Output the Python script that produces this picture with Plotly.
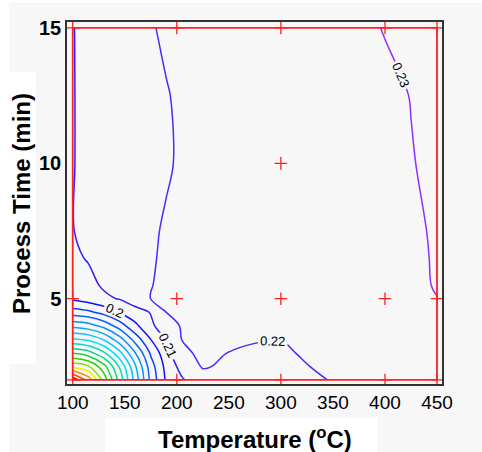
import plotly.graph_objects as go

# Temperature grid (°C) and process time grid (min)
temps = [100, 115, 130, 145, 160, 175, 190, 205, 225, 250, 300, 350, 400, 425, 450]
times = [2, 2.5, 3, 3.5, 4, 4.5, 5, 5.5, 6.5, 7.5, 10, 12.5, 15]

# response values (rows = times, cols = temps)
z_t2 = [0.042, 0.064, 0.094, 0.124, 0.154, 0.183, 0.2018, 0.209, 0.216, 0.2165, 0.2175, 0.2203, 0.2235, 0.2250, 0.2265]
z_t2_5 = [0.083, 0.089, 0.1065, 0.131, 0.1585, 0.1855, 0.2034, 0.2135, 0.2208, 0.2185, 0.2185, 0.2212, 0.2240, 0.2254, 0.2268]
z_t3 = [0.111, 0.1162, 0.1287, 0.1471, 0.1697, 0.1915, 0.2069, 0.2185, 0.2215, 0.2199, 0.2193, 0.2218, 0.2245, 0.2259, 0.2273]
z_t3_5 = [0.139, 0.1423, 0.151, 0.1659, 0.1841, 0.2001, 0.2105, 0.2202, 0.2218, 0.2212, 0.2201, 0.2222, 0.2250, 0.2263, 0.2277]
z_t4 = [0.1628, 0.1658, 0.1732, 0.1848, 0.1978, 0.208, 0.216, 0.2208, 0.2218, 0.2222, 0.2222, 0.2232, 0.2256, 0.2270, 0.2284]
z_t4_5 = [0.1855, 0.1878, 0.1936, 0.2005, 0.206, 0.2105, 0.2201, 0.2212, 0.2220, 0.2228, 0.2235, 0.2248, 0.2268, 0.2280, 0.2292]
z_t5 = [0.2015, 0.2049, 0.2083, 0.2105, 0.2155, 0.2201, 0.2204, 0.2210, 0.2217, 0.2226, 0.2245, 0.2263, 0.2282, 0.2291, 0.22995]
z_t5_5 = [0.205, 0.2075, 0.2112, 0.2141, 0.2171, 0.2199, 0.2206, 0.2212, 0.2219, 0.2228, 0.2247, 0.2265, 0.2284, 0.2293, 0.2302]
z_t6_5 = [0.2085, 0.2106, 0.2129, 0.2152, 0.2174, 0.2197, 0.2205, 0.2211, 0.2218, 0.2227, 0.2246, 0.2265, 0.2284, 0.2293, 0.2303]
z_t7_5 = [0.2098, 0.2117, 0.2137, 0.2156, 0.2175, 0.2195, 0.2204, 0.2210, 0.2218, 0.2227, 0.2246, 0.2266, 0.2285, 0.2294, 0.2304]
z_t10 = [0.2098, 0.2112, 0.2128, 0.2145, 0.2162, 0.2179, 0.2196, 0.2205, 0.2213, 0.2224, 0.2245, 0.2266, 0.2288, 0.2298, 0.2309]
z_t12_5 = [0.2098, 0.2112, 0.2129, 0.2146, 0.2163, 0.2181, 0.2198, 0.2206, 0.2214, 0.2225, 0.2246, 0.2268, 0.2290, 0.2301, 0.2310]
z_t15 = [0.2098, 0.2115, 0.2136, 0.2156, 0.2177, 0.2197, 0.2206, 0.2213, 0.2222, 0.2233, 0.2255, 0.2278, 0.2302, 0.2315, 0.2330]

z = [z_t2, z_t2_5, z_t3, z_t3_5, z_t4, z_t4_5, z_t5, z_t5_5, z_t6_5, z_t7_5, z_t10, z_t12_5, z_t15]

# design region and design points
rect_T = [100, 450, 450, 100, 100]
rect_t = [2, 2, 15, 15, 2]
design_T = [100, 200, 300, 400, 450, 100, 200, 300, 400, 450, 300, 100, 200, 300, 400, 450]
design_t = [2, 2, 2, 2, 2, 5, 5, 5, 5, 5, 10, 15, 15, 15, 15, 15]

x_ticks = [100, 150, 200, 250, 300, 350, 400, 450]
y_ticks = [5, 10, 15]

colorscale = [
    [0.0, "#ff0000"],
    [0.111, "#ff8c00"],
    [0.167, "#f0f000"],
    [0.278, "#30d000"],
    [0.40, "#00d890"],
    [0.5, "#00e0ff"],
    [0.667, "#0090ff"],
    [0.833, "#1010ff"],
    [0.944, "#4a28ff"],
    [1.0, "#9030ff"],
]

FONT = "Liberation Sans, Arial, sans-serif"

fig = go.Figure()
fig.add_trace(go.Contour(
    x=temps, y=times, z=z,
    autocontour=False,
    contours=dict(start=0.05, end=0.2301, size=0.01, coloring="lines",
                  showlabels=True,
                  labelfont=dict(size=13, color="black", family=FONT),
                  labelformat=".2~f"),
    line=dict(width=1.5),
    colorscale=colorscale, zmin=0.05, zmax=0.23, zauto=False,
    showscale=False, hoverinfo="skip",
))
fig.add_trace(go.Scatter(
    x=rect_T, y=rect_t, mode="lines",
    line=dict(color="#ff2020", width=1.8), hoverinfo="skip", showlegend=False,
))
fig.add_trace(go.Scatter(
    x=design_T, y=design_t, mode="markers",
    marker=dict(symbol="cross-thin", size=9, line=dict(color="#ff2020", width=1.3)),
    hoverinfo="skip", showlegend=False,
))

shapes = [
    dict(type="rect", xref="paper", yref="paper", x0=-0.2, x1=-0.1547, y0=-0.25, y1=1.1,
         fillcolor="white", line=dict(width=0), layer="below"),
    dict(type="rect", xref="paper", yref="paper", x0=-0.2, x1=1.2, y0=1.0525, y1=1.1,
         fillcolor="white", line=dict(width=0), layer="below"),
    dict(type="rect", xref="paper", yref="paper", x0=-0.1547, x1=-0.0827, y0=0.0552, y1=0.862,
         fillcolor="white", line=dict(width=0), layer="below"),
    dict(type="rect", xref="paper", yref="paper", x0=0.1013, x1=0.8267, y0=-0.1878, y1=-0.0939,
         fillcolor="white", line=dict(width=0), layer="below"),
]

annotations = [
    dict(text="<b>Temperature (<sup>o</sup>C)</b>", xref="paper", yref="paper",
         x=0.5, y=-0.149, xanchor="center", yanchor="middle", showarrow=False,
         font=dict(size=24, family=FONT, color="black")),
    dict(text="<b>Process Time (min)</b>", xref="paper", yref="paper",
         x=-0.1227, y=0.5, xanchor="center", yanchor="middle", showarrow=False,
         textangle=-90, font=dict(size=24, family=FONT, color="black")),
]

fig.update_layout(
    width=482, height=452,
    margin=dict(l=67, r=40, t=22, b=68),
    paper_bgcolor="#f7f7f7", plot_bgcolor="#f7f7f7",
    showlegend=False,
    shapes=shapes,
    annotations=annotations,
    font=dict(family=FONT, color="black"),
    xaxis=dict(
        range=[94.5, 454.8], tickvals=x_ticks, ticktext=[str(v) for v in x_ticks],
        showgrid=False, zeroline=False, ticks="", showline=True, mirror=True,
        linecolor="#333333", linewidth=1.5,
        tickfont=dict(size=19, family=FONT, color="black"),
    ),
    yaxis=dict(
        range=[1.85, 15.22], tickvals=y_ticks, ticktext=["<b>%d</b>" % v for v in y_ticks],
        showgrid=False, zeroline=False, ticks="", showline=True, mirror=True,
        linecolor="#333333", linewidth=1.5,
        tickfont=dict(size=20, family=FONT, color="black"),
    ),
)

fig.write_html("out.html")
